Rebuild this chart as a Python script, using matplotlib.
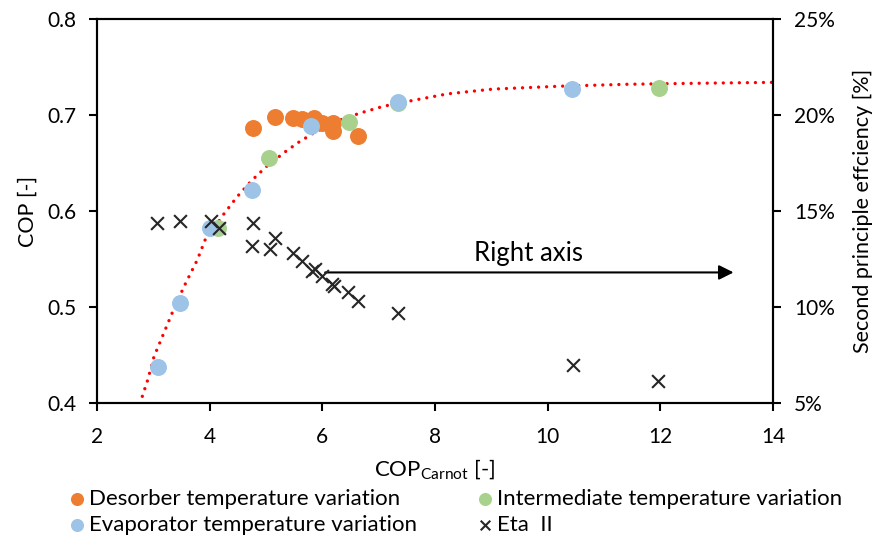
import matplotlib.pyplot as plt
from matplotlib.ticker import PercentFormatter

plt.rcParams['font.family'] = ['Lato', 'DejaVu Sans']

# desorber temperature variation (left axis)
des_x = [4.77, 5.16, 5.48, 5.64, 5.85, 6.00, 6.19, 6.19, 6.64]
des_y = [0.686, 0.698, 0.697, 0.696, 0.697, 0.692, 0.692, 0.683, 0.678]

# evaporator temperature variation
eva_x = [3.08, 3.47, 4.01, 4.75, 5.80, 7.35, 10.44]
eva_y = [0.438, 0.504, 0.582, 0.622, 0.689, 0.714, 0.727]

# intermediate temperature variation
int_x = [4.15, 5.05, 6.47, 7.35, 11.98]
int_y = [0.582, 0.655, 0.693, 0.713, 0.728]

# Eta II (right axis, %)
eta_x = [3.07, 3.47, 4.02, 4.17, 4.77, 4.75, 5.07, 5.16, 5.48, 5.64,
         5.82, 5.87, 6.00, 6.17, 6.21, 6.46, 6.64, 7.35, 10.45, 11.96]
eta_y = [14.4, 14.5, 14.5, 14.1, 14.4, 13.2, 13.0, 13.6, 12.8, 12.4,
         11.9, 12.0, 11.6, 11.2, 11.1, 10.8, 10.3, 9.7, 7.0, 6.15]

# trend line
trend_x = [2.76, 2.9, 3.01, 3.18, 3.35, 3.55, 3.78, 3.92, 4.1, 4.24, 4.49, 4.75,
           5.02, 5.36, 5.59, 5.84, 6.1, 6.37, 6.67, 7.08, 7.5, 8.22, 9.03,
           10.22, 11.41, 12.59, 14.0]
trend_y = [0.399, 0.424, 0.448, 0.472, 0.496, 0.522, 0.549, 0.570, 0.584, 0.596,
           0.615, 0.632, 0.647, 0.6625, 0.672, 0.681, 0.689, 0.696, 0.702, 0.709,
           0.714, 0.722, 0.727, 0.730, 0.732, 0.733, 0.734]

fig = plt.figure(figsize=(8.75, 5.35), dpi=100)
ax = fig.add_axes([97/875, 1-403/535, (773-97)/875, (403-19)/535])
ax2 = ax.twinx()

ax.plot(trend_x, trend_y, color='#FF0000', linestyle=(0, (0.01, 2.4)), linewidth=2.4,
        zorder=1, dash_capstyle='round')
h_des = ax.scatter(des_x, des_y, s=125, color='#ED7D31', zorder=3,
                   label='Desorber temperature variation')
h_int = ax.scatter(int_x, int_y, s=125, color='#A9D18E', zorder=3,
                   label='Intermediate temperature variation')
h_eva = ax.scatter(eva_x, eva_y, s=125, color='#9DC3E6', zorder=4,
                   label='Evaporator temperature variation')
h_eta = ax2.scatter(eta_x, eta_y, s=85, marker='x', color='#262626', linewidths=1.5,
                    label='Eta  II')

ax.set_xlim(2, 14)
ax.set_ylim(0.4, 0.8)
ax.set_xticks([2, 4, 6, 8, 10, 12, 14])
ax.set_yticks([0.4, 0.5, 0.6, 0.7, 0.8])
ax2.set_ylim(5, 25)
ax2.set_yticks([5, 10, 15, 20, 25])
ax2.yaxis.set_major_formatter(PercentFormatter(decimals=0))

for a in (ax, ax2):
    for s in a.spines.values():
        s.set_linewidth(1.5)
        s.set_color('black')
ax.tick_params(direction='out', length=6, width=1.5, labelsize=15, pad=9)
ax.tick_params(axis='x', pad=11)
ax2.tick_params(direction='out', length=6, width=1.5, labelsize=15, pad=9)

ax.set_xlabel('COP$_\\mathregular{Carnot}$ [-]', fontsize=16, labelpad=8)
ax.set_ylabel('COP [-]', fontsize=15.5, labelpad=7)
ax2.set_ylabel('Second principle effciency [%]', fontsize=15.5, labelpad=13)

ax.annotate('', xy=(13.3, 0.536), xytext=(6.05, 0.536),
            arrowprops=dict(arrowstyle='-|>', color='black', lw=1.5,
                            mutation_scale=22, shrinkA=0, shrinkB=0))
ax.text(9.66, 0.556, 'Right axis', fontsize=18.5, ha='center', va='center')

fig.legend(handles=[h_des, h_eva, h_int, h_eta], ncol=2, frameon=False,
           loc='lower left', bbox_to_anchor=(0.066, -0.016), fontsize=16,
           handletextpad=0.1, columnspacing=2.6, labelspacing=0.27,
           handlelength=0.9, markerscale=0.75, borderaxespad=0)

fig.savefig('out.png', dpi=100)
